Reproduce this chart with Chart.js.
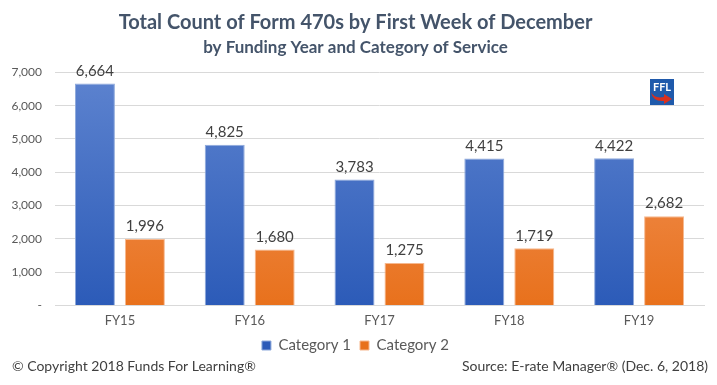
<!DOCTYPE html>
<html>
<head>
<meta charset="utf-8">
<script src="https://cdn.jsdelivr.net/npm/chart.js@4"></script>
<style>
  html, body { margin: 0; padding: 0; background: #fff; }
  #wrap { width: 717px; height: 385px; }
</style>
</head>
<body>
<div id="wrap"><canvas id="c" width="717" height="385"></canvas></div>
<script>
const years = ["FY15", "FY16", "FY17", "FY18", "FY19"];
const category1 = [6664, 4825, 3783, 4415, 4422];
const category2 = [1996, 1680, 1275, 1719, 2682];
const yTicks = [0, 1000, 2000, 3000, 4000, 5000, 6000, 7000];

const FONT = "Lato, 'Open Sans', sans-serif";

function grad(top, bottom) {
  return (ctx) => {
    const { chart } = ctx;
    const area = chart.chartArea;
    if (!area) return bottom;
    const g = chart.ctx.createLinearGradient(0, area.top, 0, area.bottom);
    g.addColorStop(0, top);
    g.addColorStop(1, bottom);
    return g;
  };
}

// value labels above bars, footer text and small logo
const extras = {
  id: "extras",
  afterDatasetsDraw(chart) {
    const ctx = chart.ctx;
    ctx.save();
    ctx.font = "15px " + FONT;
    ctx.fillStyle = "#404040";
    ctx.textAlign = "center";
    ctx.textBaseline = "bottom";
    chart.data.datasets.forEach((ds, i) => {
      chart.getDatasetMeta(i).data.forEach((bar, j) => {
        ctx.fillText(ds.data[j].toLocaleString("en-US"), bar.x, bar.y - 5);
      });
    });
    ctx.restore();
  },
  afterDraw(chart) {
    const ctx = chart.ctx;
    ctx.save();
    ctx.font = "14px " + FONT;
    ctx.fillStyle = "#404040";
    ctx.textBaseline = "middle";
    ctx.textAlign = "left";
    ctx.fillText("\u00A9 Copyright 2018 Funds For Learning\u00AE", 12, 366);
    ctx.textAlign = "right";
    ctx.fillText("Source: E-rate Manager\u00AE (Dec. 6, 2018)", 708, 366);

    // FFL logo
    const x = 650, y = 79, w = 24, h = 26;
    ctx.fillStyle = "#1F5AAB";
    ctx.fillRect(x, y, w, h);
    ctx.fillStyle = "#fff";
    ctx.font = "bold 11px " + FONT;
    ctx.textAlign = "center";
    ctx.fillText("FFL", x + w / 2, y + 8);
    ctx.fillStyle = "#D9301E";
    ctx.beginPath();
    ctx.moveTo(x + 1, y + 13);
    ctx.quadraticCurveTo(x + 4, y + 20, x + 14, y + 18);
    ctx.lineTo(x + 14, y + 15);
    ctx.lineTo(x + 22, y + 20);
    ctx.lineTo(x + 14, y + 25);
    ctx.lineTo(x + 14, y + 22);
    ctx.quadraticCurveTo(x + 3, y + 23, x + 1, y + 13);
    ctx.fill();
    ctx.restore();
  }
};

new Chart(document.getElementById("c"), {
  type: "bar",
  data: {
    labels: years,
    datasets: [
      {
        label: "Category 1",
        data: category1,
        backgroundColor: grad("#5D83CF", "#2C5BB8"),
        borderColor: "#8EA9DB",
        borderWidth: 1,
        categoryPercentage: 0.77,
        barPercentage: 0.8
      },
      {
        label: "Category 2",
        data: category2,
        backgroundColor: grad("#F39A66", "#E8711C"),
        borderColor: "#F6B88F",
        borderWidth: 1,
        categoryPercentage: 0.77,
        barPercentage: 0.8
      }
    ]
  },
  options: {
    responsive: false,
    animation: false,
    layout: { padding: { left: 7, right: 13, top: 0, bottom: 22 } },
    plugins: {
      title: {
        display: true,
        text: "Total Count of Form 470s by First Week of December",
        color: "#44546A",
        font: { family: FONT, size: 20, weight: "bold" },
        padding: { top: 11, bottom: 2 }
      },
      subtitle: {
        display: true,
        text: "by Funding Year and Category of Service",
        color: "#44546A",
        font: { family: FONT, size: 17, weight: "bold" },
        padding: { top: 0, bottom: 15 }
      },
      legend: {
        position: "bottom",
        labels: {
          color: "#595959",
          font: { family: FONT, size: 15 },
          boxWidth: 9,
          boxHeight: 9,
          padding: 9
        }
      },
      tooltip: { enabled: false }
    },
    scales: {
      x: {
        grid: { display: false },
        border: { color: "#D9D9D9" },
        ticks: { color: "#595959", font: { family: FONT, size: 13 }, padding: 0 }
      },
      y: {
        min: 0,
        max: 7000,
        afterBuildTicks: (axis) => { axis.ticks = yTicks.map(v => ({ value: v })); },
        afterFit: (axis) => { axis.width = 48; },
        grid: { color: "#D9D9D9", drawTicks: false },
        border: { display: false },
        ticks: {
          color: "#595959",
          font: { family: FONT, size: 12 },
          padding: 13,
          callback: (v) => v === 0 ? "-" : v.toLocaleString("en-US")
        }
      }
    }
  },
  plugins: [extras]
});
</script>
</body>
</html>
